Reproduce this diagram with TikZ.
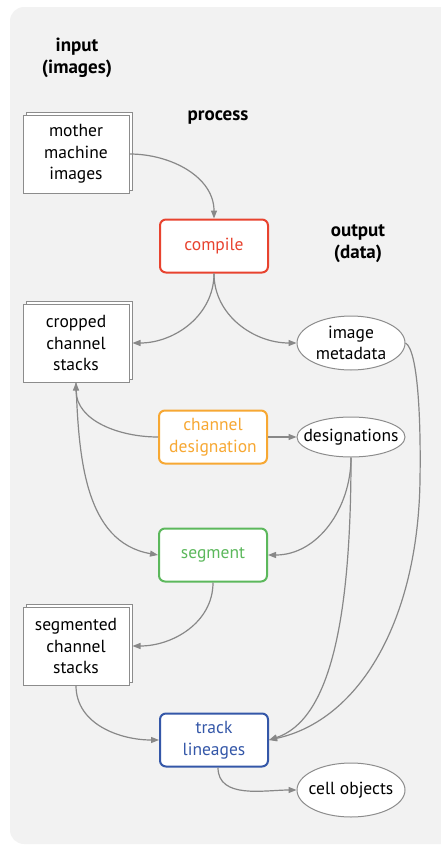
\documentclass[tikz,border=0pt]{standalone}
\usepackage{fontspec}
\setmainfont{PT Sans}
\usetikzlibrary{arrows.meta,shadows,shapes.geometric}

\definecolor{panelbg}{HTML}{F2F2F2}
\definecolor{linegray}{HTML}{888888}
\definecolor{edgegray}{HTML}{8C8C8C}
\definecolor{cred}{HTML}{E8432F}
\definecolor{corange}{HTML}{F7A833}
\definecolor{cgreen}{HTML}{5CB85C}
\definecolor{cblue}{HTML}{3457A8}

\begin{document}
\begin{tikzpicture}[x=1pt,y=-1pt,
  font=\fontsize{17.5}{21.5}\selectfont,
  stack/.style={draw=edgegray, line width=1pt, fill=white,
    minimum width=106pt, minimum height=78pt, align=center, inner sep=0pt,
    copy shadow={shadow xshift=3pt, shadow yshift=3pt, draw=edgegray,
      fill=white, line width=1pt}},
  proc/.style={draw=#1, text=#1, line width=2pt, fill=white,
    rounded corners=6pt, minimum width=108pt, minimum height=53pt,
    align=center, inner sep=0pt},
  % fixed-size ellipse; its text sits in a centred label
  datanode/.style 2 args={ellipse, draw=edgegray, line width=1pt, fill=white,
    minimum width=108pt, minimum height=#1, inner sep=0pt,
    label={[align=center, inner sep=0pt]center:#2}},
  head/.style={font=\fontsize{19}{22}\selectfont\bfseries, align=center},
  arr/.style={draw=linegray, line width=1.2pt,
    -{Triangle[length=8pt,width=6pt]}}
]
\useasboundingbox (0,0) rectangle (440,846);

% background panel
\fill[panelbg, rounded corners=14pt] (10,7) rectangle (470,844);

% column headings
\node[head] (tin) at (77,58) {input\\(images)};
\node[head] (tproc) at (218,118) {process};
\node[head] (tout) at (358,244) {output\\(data)};

% inputs and intermediate stacks
\node[stack] (mm) at (76,154) {mother\\machine\\images};
\node[stack] (crop) at (76,343) {cropped\\channel\\stacks};
\node[stack] (sstack) at (76,646) {segmented\\channel\\stacks};

% processing steps
\node[proc=cred] (compile) at (214,246) {compile};
\node[proc=corange] (chd) at (213,437) {channel\\designation};
\node[proc=cgreen] (seg) at (213,555) {segment};
\node[proc=cblue] (track) at (214,740) {track\\lineages};

% data outputs
\node[datanode={54pt}{image\\metadata}] (meta) at (351,343) {};
\node[datanode={40pt}{designations}] (des) at (351,437) {};
\node[datanode={54pt}{cell objects}] (cell) at (351,790) {};

% connectors
\draw[arr] (mm.east) to[out=0, in=90] (compile.north);
\draw[arr] (compile.south) to[out=-90, in=0] ([xshift=3pt]crop.east);
\draw[arr] (compile.south) to[out=-90, in=180] (meta.west);
\draw[arr] (chd.west) to[out=180, in=-90] (crop.south);
\draw[arr] (chd.east) -- (des.west);
\draw[arr] (crop.south) to[out=-88, in=170] (seg.west);
\draw[arr] (des.south) to[out=-90, in=0] (seg.east);
\draw[arr] (des.south) .. controls (351,620) and (330,720) .. (track.east);
\draw[arr] (meta.east) .. controls (418,350) and (421,420) .. (420,480)
  .. controls (418,620) and (360,720) .. (track.east);
\draw[arr] (seg.south) to[out=-90, in=0] ([xshift=3pt]sstack.east);
\draw[arr] (sstack.south) to[out=-90, in=180] (track.west);
\draw[arr] ([xshift=4pt]track.south) to[out=-90, in=180] (cell.west);
\end{tikzpicture}
\end{document}
